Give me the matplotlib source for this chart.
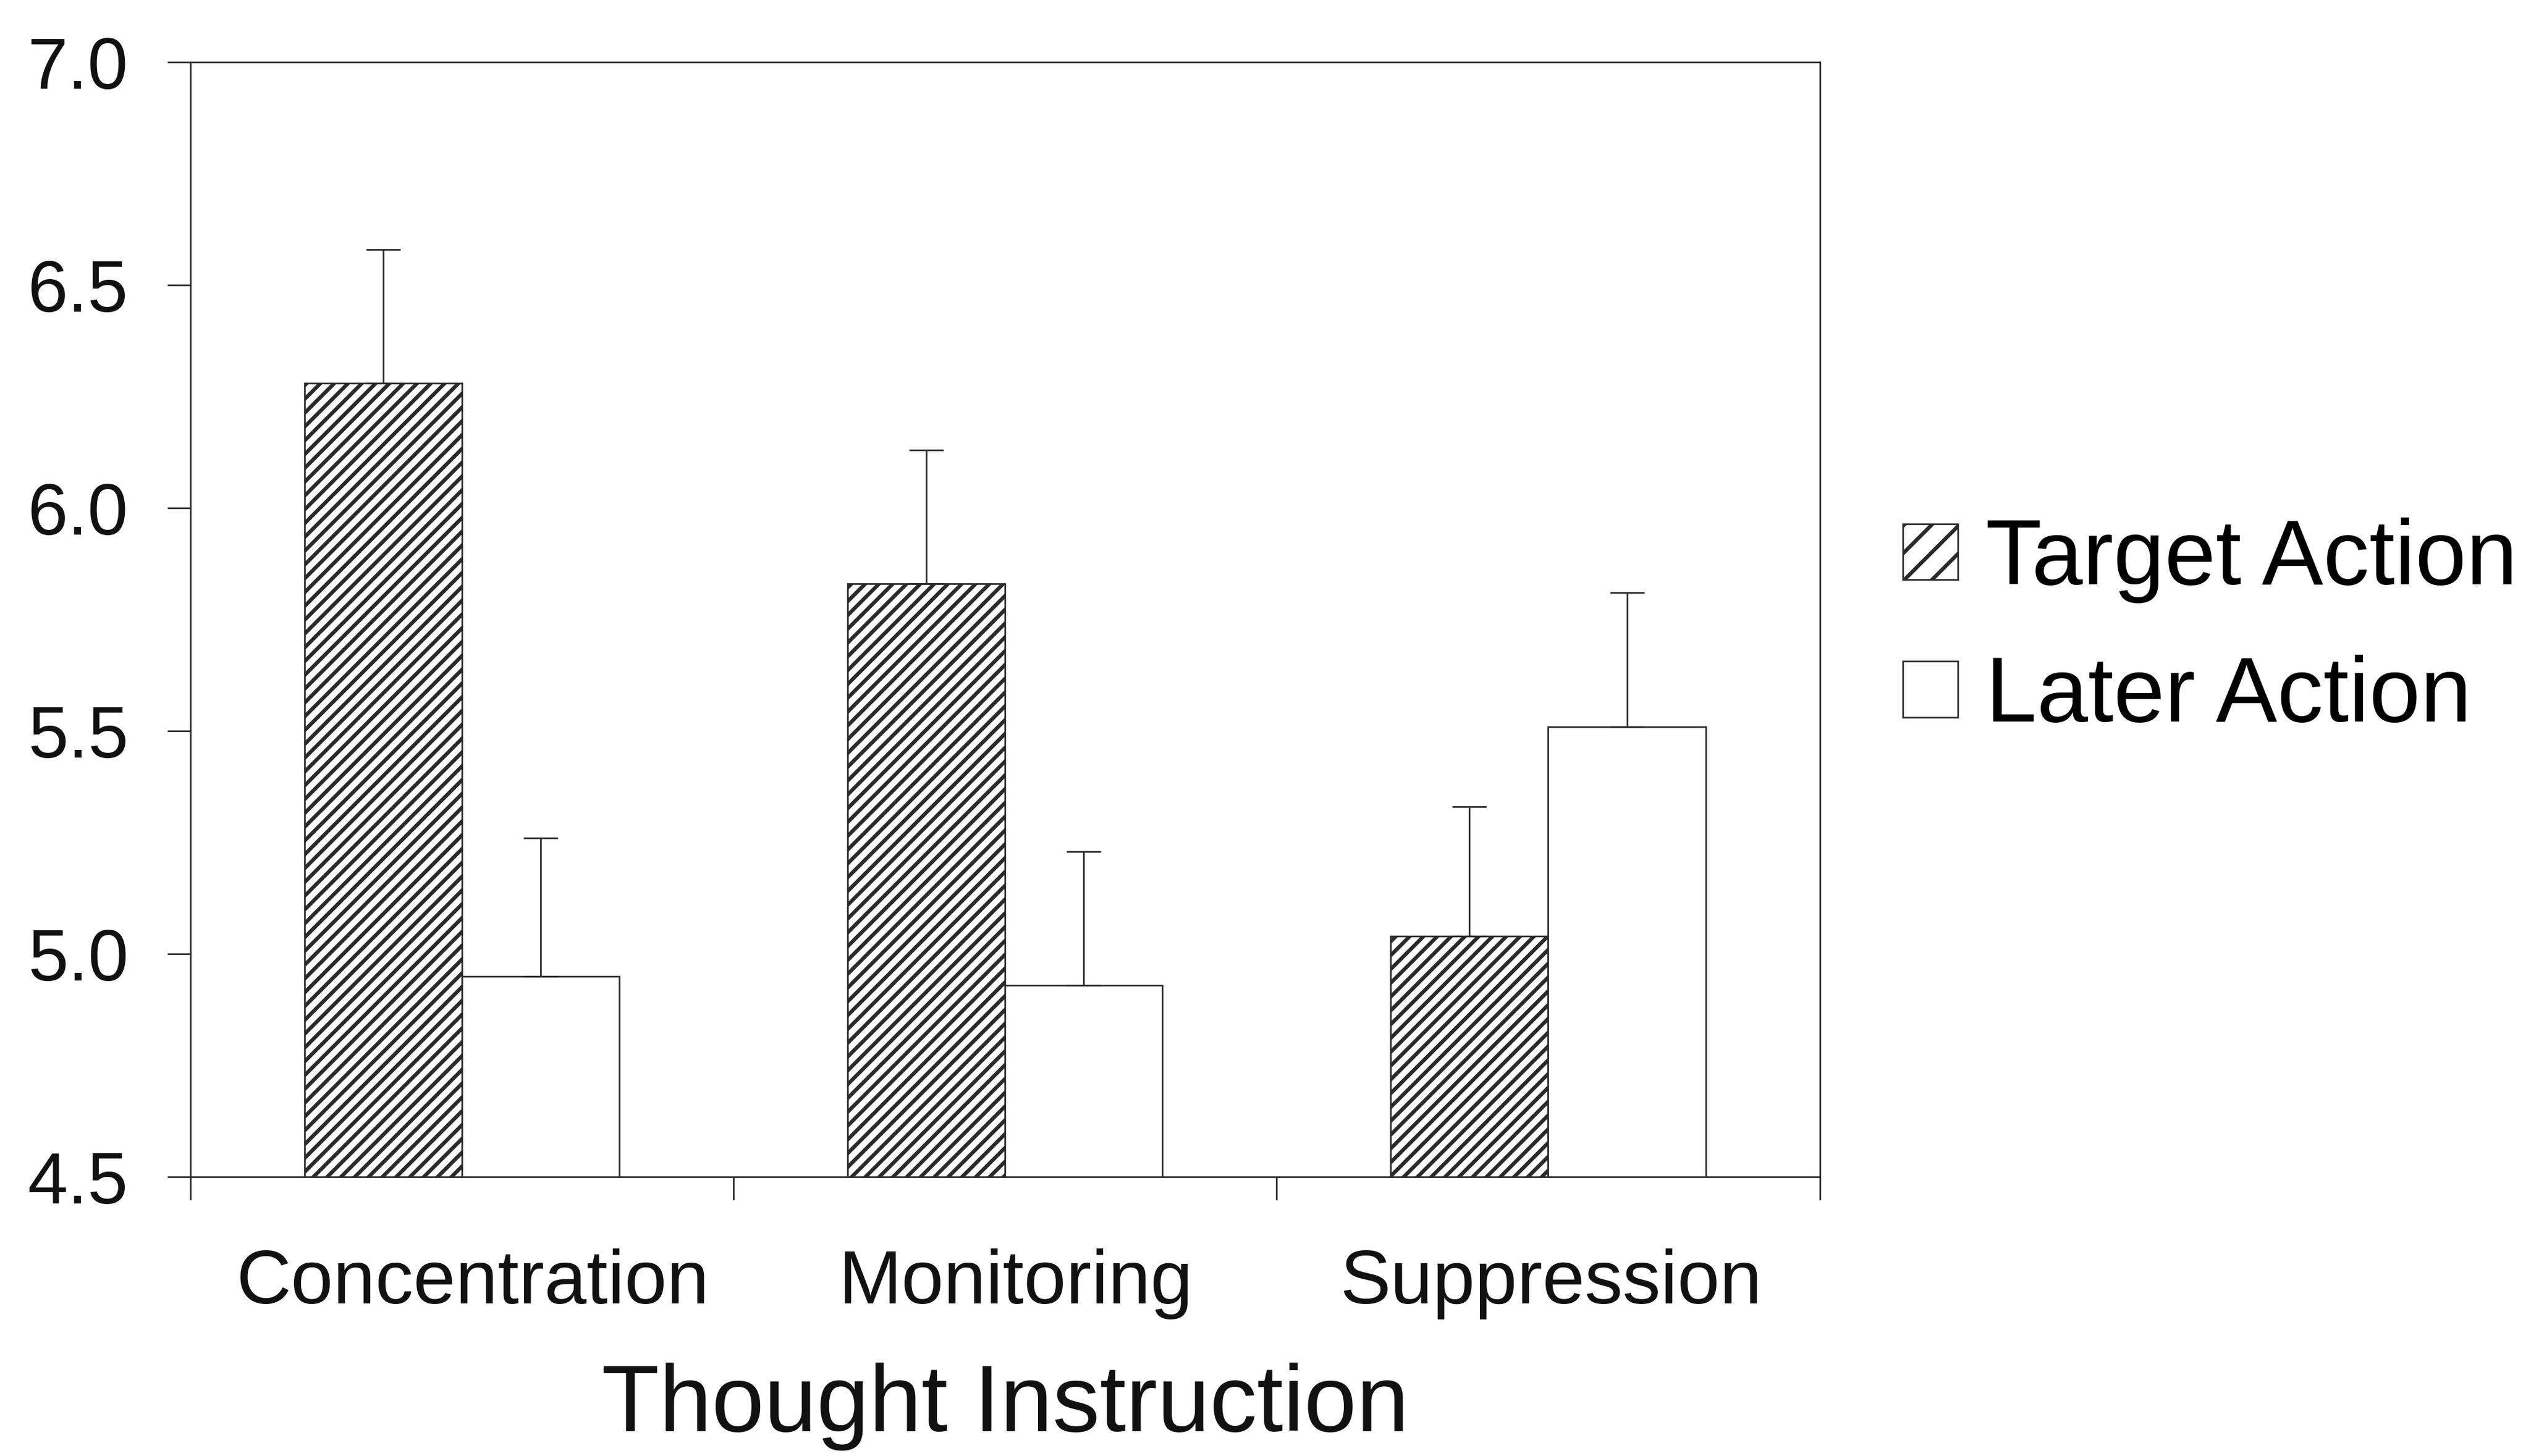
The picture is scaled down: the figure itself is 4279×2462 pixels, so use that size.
import matplotlib.pyplot as plt
import matplotlib.patches as mpatches
import numpy as np

# mean ratings per thought instruction, with standard errors (upper bars only)
conditions = ['Concentration', 'Monitoring', 'Suppression']
series_names = ['Target Action', 'Later Action']
target_means = [6.28, 5.83, 5.04]
target_err = [0.30, 0.30, 0.29]
later_means = [4.95, 4.93, 5.51]
later_err = [0.31, 0.30, 0.30]
y_ticks = [4.5, 5.0, 5.5, 6.0, 6.5, 7.0]

plt.rcParams['font.family'] = ['Liberation Sans', 'DejaVu Sans']
plt.rcParams['hatch.linewidth'] = 3.3
plt.rcParams['hatch.color'] = '#262626'

ink = '#2a2a2a'
fig = plt.figure(figsize=(4279 / 140, 2462 / 140), dpi=140)
ax = fig.add_axes([0.0752, 0.1917, 0.6438, 0.7656])

centers = np.arange(len(conditions)) + 0.5
width = 0.29

ax.bar(centers - width / 2, target_means, width, color='white',
       edgecolor=ink, hatch='//', linewidth=1.4, zorder=2)
ax.bar(centers + width / 2, later_means, width, color='white',
       edgecolor=ink, linewidth=1.4, zorder=2)

# one-sided error bars
ax.errorbar(centers - width / 2, target_means, yerr=[np.zeros(3), target_err],
            fmt='none', ecolor=ink, elinewidth=1.4, capsize=15, capthick=1.4, zorder=3)
ax.errorbar(centers + width / 2, later_means, yerr=[np.zeros(3), later_err],
            fmt='none', ecolor=ink, elinewidth=1.4, capsize=15, capthick=1.4, zorder=3)

ax.set_xlim(0, 3)
ax.set_ylim(4.5, 7.0)
ax.set_yticks(y_ticks)
ax.set_yticklabels(['%.1f' % t for t in y_ticks])

# boundary ticks between groups, labels at the group centres
ax.set_xticks([0, 1, 2, 3])
ax.set_xticklabels([])
ax.set_xticks(centers + [0.02, 0.02, 0.005], minor=True)
ax.set_xticklabels(conditions, minor=True)

ax.tick_params(axis='both', which='major', direction='out', length=20, width=1.4, color=ink)
ax.tick_params(axis='y', labelsize=63, pad=34, labelcolor='#111111')
ax.tick_params(axis='x', which='minor', length=0, pad=62, labelsize=66, labelcolor='#111111')

for side in ['left', 'right', 'top', 'bottom']:
    ax.spines[side].set_linewidth(1.4)
    ax.spines[side].set_color(ink)

ax.set_xlabel('Thought Instruction', fontsize=82, color='#111111', labelpad=38)

handles = [mpatches.Patch(facecolor='white', edgecolor=ink, hatch='/', linewidth=1.4),
           mpatches.Patch(facecolor='white', edgecolor=ink, linewidth=1.4)]
fig.legend(handles, series_names, loc='center left', bbox_to_anchor=(0.7518, 0.568),
           frameon=False, fontsize=80, handlelength=0.6, handleheight=0.56,
           handletextpad=0.3, labelspacing=0.56, borderpad=0, borderaxespad=0)

plt.savefig('out.png', dpi=140, facecolor='white')
plt.close()
